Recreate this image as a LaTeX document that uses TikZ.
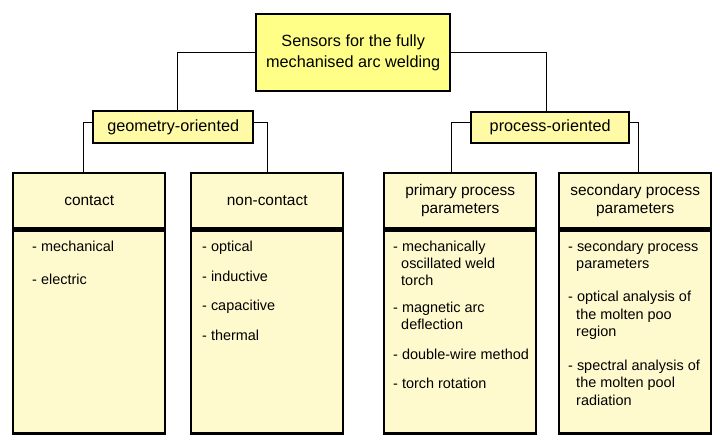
\documentclass[tikz,border=0pt]{standalone}
\usepackage{fontspec}
\setmainfont{Liberation Sans}
\usetikzlibrary{positioning}
\definecolor{topfill}{HTML}{FFFF88}
\definecolor{midfill}{HTML}{FFFAA6}
\definecolor{colfill}{HTML}{FFFACD}
\tikzset{
  box/.style={draw, line width=2.4bp, inner sep=2bp, align=center},
  head/.style={box, fill=colfill, minimum width=152bp, minimum height=55bp, font=\fontsize{15.5}{18.5}\selectfont},
  body/.style={box, fill=colfill, minimum width=152bp, minimum height=203bp},
  items/.style={align=left, inner sep=0pt, anchor=north west, font=\fontsize{14.5}{17.5}\selectfont},
  link/.style={line width=0.8bp}
}
\begin{document}
\begin{tikzpicture}[x=1bp, y=-1bp]
    \useasboundingbox (0,0) rectangle (720,442);
    \node[box, fill=topfill, minimum width=194bp, minimum height=77bp, anchor=north west, font=\fontsize{16.3}{21}\selectfont] (sensors) at (255,13) {Sensors for the fully\\mechanised arc welding};
    \node[box, fill=midfill, minimum width=160bp, minimum height=32bp, anchor=north west, font=\fontsize{16.3}{18}\selectfont] (geometry) at (92,110) {geometry-oriented};
    \node[box, fill=midfill, minimum width=158bp, minimum height=31bp, anchor=north west, font=\fontsize{16.3}{18}\selectfont] (process) at (470,111) {process-oriented};

    \node[head, anchor=north west] (contact) at (12,172) {contact};
    \node[head, anchor=north west] (noncontact) at (190,172) {non-contact};
    \node[head, anchor=north west] (primary) at (383,172) {primary process\\parameters};
    \node[head, anchor=north west] (secondary) at (558,172) {secondary process\\parameters};

    \node[body, below=0pt of contact] (contactbody) {};
    \node[body, below=0pt of noncontact] (noncontactbody) {};
    \node[body, below=0pt of primary] (primarybody) {};
    \node[body, below=0pt of secondary] (secondarybody) {};

    % item lists
    \node[items] (contactlist) at ([xshift=20bp, yshift=-11bp]contactbody.north west) {- mechanical\\[15.5bp]- electric};
    \node[items] (noncontactlist) at ([xshift=12bp, yshift=-11bp]noncontactbody.north west) {- optical\\[12.5bp]- inductive\\[12.5bp]- capacitive\\[12.5bp]- thermal};
    \node[items] (primarylist) at ([xshift=10bp, yshift=-11bp]primarybody.north west) {- mechanically\\\ \ oscillated weld\\\ \ torch\\[9bp]- magnetic arc\\\ \ deflection\\[12bp]- double-wire method\\[12bp]- torch rotation};
    \node[items] (secondarylist) at ([xshift=10bp, yshift=-11bp]secondarybody.north west) {- secondary process\\\ \ parameters\\[16bp]- optical analysis of\\\ \ the molten poo\\\ \ region\\[16bp]- spectral analysis of\\\ \ the molten pool\\\ \ radiation};

    \draw[link] (sensors.west) -| ([xshift=4bp]geometry.north);
    \draw[link] (sensors.east) -| ([xshift=-4bp]process.north);
    \draw[link] ([yshift=5bp]geometry.west) -| ([xshift=-6bp]contact.north);
    \draw[link] ([yshift=5bp]geometry.east) -| (noncontact.north);
    \draw[link] ([yshift=5bp]process.west) -| ([xshift=-9bp]primary.north);
    \draw[link] ([yshift=5bp]process.east) -| ([xshift=3bp]secondary.north);
\end{tikzpicture}
\end{document}
